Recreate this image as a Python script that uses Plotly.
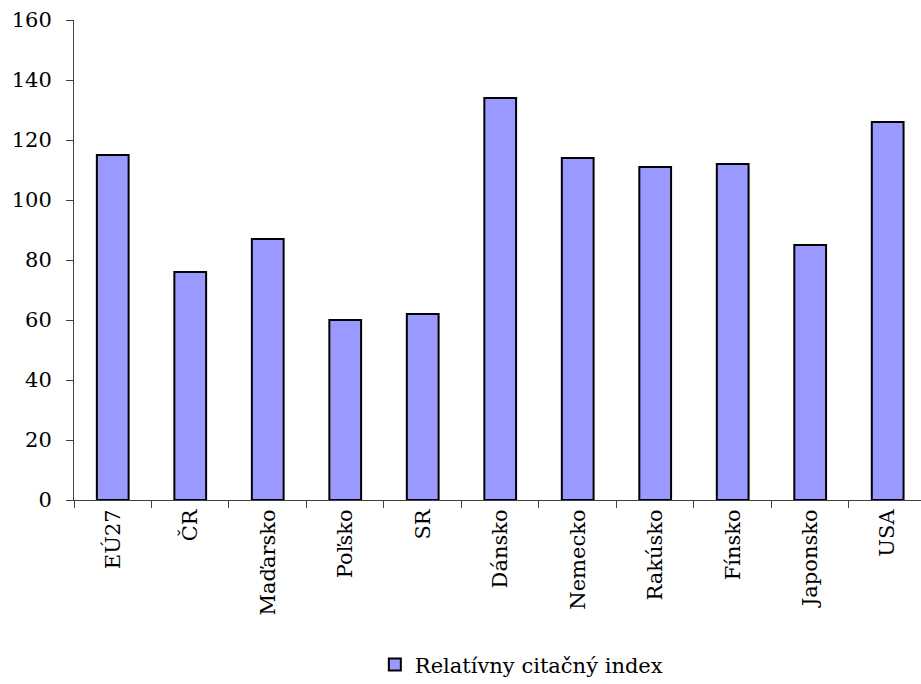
import plotly.graph_objects as go

categories = ["EÚ27", "ČR", "Maďarsko", "Poľsko", "SR", "Dánsko", "Nemecko",
              "Rakúsko", "Fínsko", "Japonsko", "USA"]
values = [115, 76, 87, 60, 62, 134, 114, 111, 112, 85, 126]
series_name = "Relatívny citačný index"
y_ticks = [0, 20, 40, 60, 80, 100, 120, 140, 160]

FONT = "DejaVu Serif"
FS = 21

fig = go.Figure()
fig.add_trace(go.Bar(
    x=categories, y=values, name=series_name,
    marker=dict(color="#9999FF", line=dict(color="black", width=2)),
    width=0.41,
))

fig.update_layout(
    width=921, height=684,
    margin=dict(l=74, r=0, t=20, b=184),
    paper_bgcolor="white", plot_bgcolor="white",
    font=dict(family=FONT, size=FS, color="black"),
    showlegend=True,
    legend=dict(
        orientation="h", xref="container", yref="container",
        x=0.407, xanchor="left", y=0.028, yanchor="middle",
        font=dict(family=FONT, size=FS, color="black"),
        itemwidth=30,
    ),
    bargap=0.59,
)
fig.update_xaxes(
    type="category", range=[-0.5, 10.43],
    showline=True, linecolor="#404040", linewidth=1,
    ticks="outside", ticklen=7, tickcolor="#404040", tickson="boundaries",
    tickangle=-90, showgrid=False, zeroline=False,
    tickfont=dict(family=FONT, size=FS, color="black"),
)
fig.update_yaxes(
    range=[0, 160], tickvals=y_ticks,
    showline=True, linecolor="#404040", linewidth=1,
    ticks="outside", ticklen=7, tickcolor="#404040",
    showgrid=False, zeroline=False, ticklabelstandoff=10,
    tickfont=dict(family=FONT, size=21, color="black"),
)

fig.write_html("out.html")
